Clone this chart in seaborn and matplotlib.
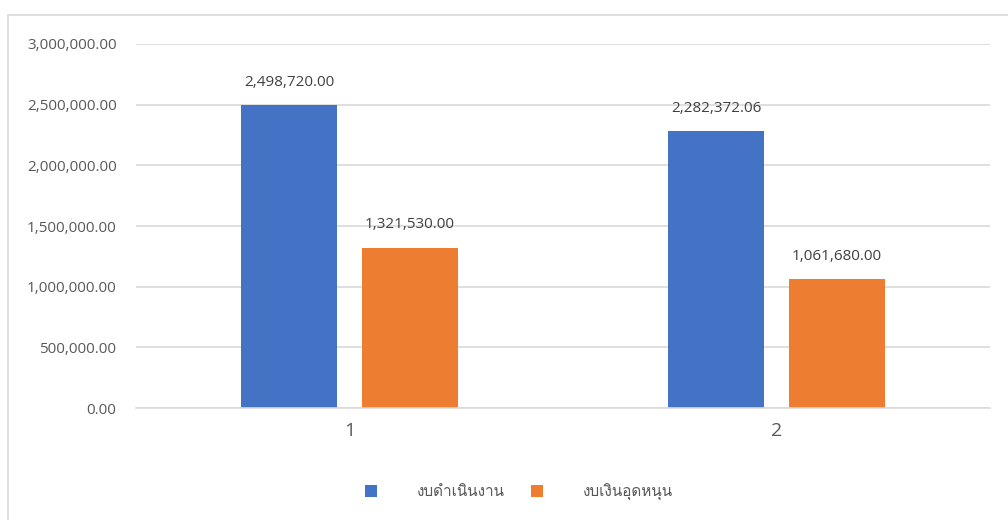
import matplotlib
matplotlib.use("Agg")
import matplotlib.pyplot as plt
from matplotlib import font_manager
from matplotlib.ft2font import FT2Font
from matplotlib.patches import Rectangle
from matplotlib.ticker import FuncFormatter
import seaborn as sns
import pandas as pd

# ---- data ----
categories = ["1", "2"]
series_names = ["งบดำเนินงาน", "งบเงินอุดหนุน"]
operating = [2498720.00, 2282372.06]
subsidy = [1321530.00, 1061680.00]
colors = ["#4472C4", "#ED7D31"]

df = pd.DataFrame({
    "cat": categories * 2,
    "series": [series_names[0]] * 2 + [series_names[1]] * 2,
    "value": operating + subsidy,
})

sns.set_theme(style="white")

# find a font that has Thai glyphs
thai_family = None
for f in font_manager.fontManager.ttflist:
    try:
        ft = FT2Font(f.fname)
        if 0x0E07 in ft.get_charmap():
            thai_family = f.name
            break
    except Exception:
        pass
fams = ["Open Sans", "DejaVu Sans"]
if thai_family:
    fams = ["Open Sans", thai_family, "DejaVu Sans"]
plt.rcParams["font.family"] = fams

fig = plt.figure(figsize=(10.08, 5.2), dpi=100)
ax = fig.add_axes([136/1008, 1-408/520, (990-136)/1008, (408-44)/520])

sns.barplot(data=df, x="cat", y="value", hue="series", palette=colors,
            width=0.567, gap=0.2, ax=ax, saturation=1, linewidth=0)

ax.set_ylim(0, 3000000)
ax.set_xlim(-0.5, 1.5)
ax.set_yticks([0, 500000, 1000000, 1500000, 2000000, 2500000, 3000000])
ax.yaxis.set_major_formatter(FuncFormatter(lambda v, p: f"{v:,.2f}"))
ax.grid(axis="y", color="#d9d9d9", linewidth=1.2)
ax.set_axisbelow(True)
for s in ["top", "right", "left"]:
    ax.spines[s].set_visible(False)
ax.spines["bottom"].set_color("#d9d9d9")
ax.spines["bottom"].set_linewidth(1.2)
ax.tick_params(axis="y", labelsize=11, labelcolor="#595959", length=0, pad=14)
ax.tick_params(axis="x", labelsize=14, labelcolor="#595959", length=0, pad=10)
ax.set_xlabel("")
ax.set_ylabel("")

for cont in ax.containers:
    ax.bar_label(cont, labels=[f"{v:,.2f}" for v in cont.datavalues],
                 padding=11, fontsize=11, color="#404040")

handles, labels = ax.get_legend_handles_labels()
ax.legend(handles, labels, loc="center", bbox_to_anchor=(519/1008, 1-492/520),
          bbox_transform=fig.transFigure, ncol=2, frameon=False,
          fontsize=11, labelcolor="#595959", handlelength=0.8, handleheight=0.8,
          handletextpad=2.6, columnspacing=1.7)

fig.patches.append(Rectangle((8/1008, -0.1), 1.2, 1-15/520+0.1,
                             transform=fig.transFigure, fill=False,
                             edgecolor="#d9d9d9", linewidth=1.2, zorder=-1))

fig.savefig("out.png", dpi=100, facecolor="white")
